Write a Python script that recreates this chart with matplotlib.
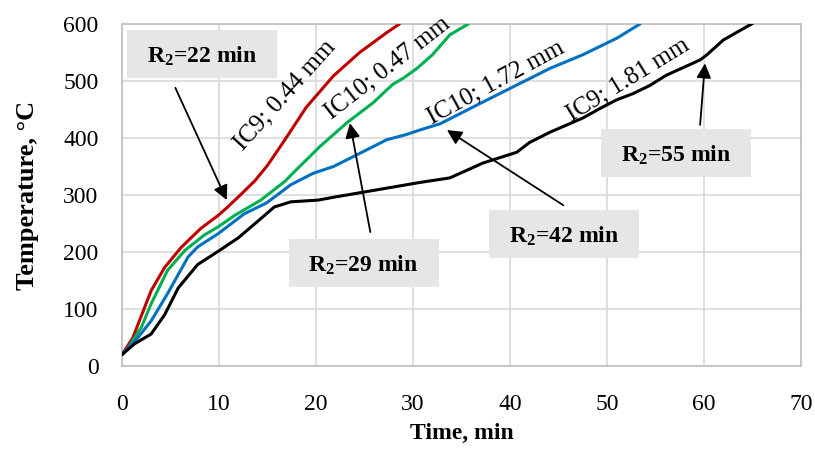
import matplotlib
matplotlib.use("Agg")
import matplotlib.pyplot as plt
from matplotlib.patches import Rectangle

plt.rcParams['font.family'] = ['Liberation Serif', 'DejaVu Serif']
plt.rcParams['mathtext.fontset'] = 'custom'
plt.rcParams['mathtext.rm'] = 'Liberation Serif'
plt.rcParams['mathtext.bf'] = 'Liberation Serif:bold'
plt.rcParams['mathtext.it'] = 'Liberation Serif:italic'

# ---- data ----
t_ic9_044 = [0, 1.1, 2.2, 3, 4.4, 6.1, 8.1, 9.9, 10.9, 12.2, 13.7, 15, 16.6, 19, 21.8, 24.5, 27.3, 28.6]
T_ic9_044 = [20, 49, 97, 132, 173, 208, 241, 264, 279, 300, 325, 352, 392, 454, 509, 550, 585, 600]

t_ic10_047 = [0, 0.6, 2, 3, 4.7, 6.5, 8.5, 9.9, 11.6, 14.3, 16.8, 17.6, 20.4, 23.2, 25.9, 27.9, 29, 30.4, 32, 33.8, 35.7]
T_ic10_047 = [20, 31, 68, 109, 168, 203, 230, 244, 264, 291, 324, 338, 385, 427, 462, 494, 505, 522, 546, 581, 600]

t_ic10_172 = [0, 1.6, 3, 4.7, 6.8, 7.8, 9.9, 12.6, 14.9, 17.4, 19.7, 21.8, 23.8, 25.2, 27.3, 29.3, 30.7, 32.8, 37.2, 40.7, 44.1, 47.5, 51, 53.4]
T_ic10_172 = [20, 49, 79, 127, 191, 209, 232, 267, 286, 318, 338, 350, 367, 379, 397, 406, 414, 425, 463, 493, 522, 546, 575, 600]

t_ic9_181 = [0, 1.3, 3, 4.4, 5.8, 7.8, 9.9, 12, 14, 15.7, 17.4, 20.2, 21.8, 26.6, 30.7, 33.8, 37.2, 40.7, 42, 44.1, 47.5, 49.3, 51, 52.7, 54.4, 56.1, 59.6, 60.3, 62, 65]
T_ic9_181 = [20, 39, 56, 90, 137, 178, 201, 225, 254, 279, 288, 291, 296, 310, 322, 330, 356, 375, 392, 410, 435, 452, 467, 478, 492, 510, 537, 546, 572, 601]

curve_labels = ["IC9; 0.44 mm", "IC10; 0.47 mm", "IC10; 1.72 mm", "IC9; 1.81 mm"]
r2_labels = ["22", "29", "42", "55"]

x_ticks = [0, 10, 20, 30, 40, 50, 60, 70]
y_ticks = [0, 100, 200, 300, 400, 500, 600]

# ---- figure ----
fig = plt.figure(figsize=(8.15, 4.49), dpi=100)
ax = fig.add_axes([122/815, 1-366/449, (801-122)/815, (366-24)/449])

lw = 2.2
kw = dict(lw=lw, zorder=3, solid_joinstyle='round', solid_capstyle='round')
ax.plot(t_ic9_044, T_ic9_044, color='#c00000', **kw)
ax.plot(t_ic10_047, T_ic10_047, color='#00b050', **kw)
ax.plot(t_ic10_172, T_ic10_172, color='#0070c0', **kw)
ax.plot(t_ic9_181, T_ic9_181, color='black', **kw)

ax.set_xlim(0, 70)
ax.set_ylim(0, 600)
ax.set_xticks(x_ticks)
ax.set_yticks(y_ticks)
ax.grid(True, color='#d9d9d9', lw=1.2, zorder=0)
ax.set_axisbelow(True)
for s in ax.spines.values():
    s.set_color('#bfbfbf')
    s.set_linewidth(1.2)
ax.tick_params(length=0, labelsize=17)
ax.tick_params(axis='x', pad=20)
ax.tick_params(axis='y', pad=17)

ax.set_xlabel("Time, min", fontsize=17, fontweight='bold', labelpad=6)
ax.set_ylabel("Temperature, °C", fontsize=19, fontweight='bold', labelpad=17)

# rotated curve labels
rot_pos = [(16.8, 475, 48), (27.4, 523, 38), (38.6, 496, 28.5), (52.2, 502, 31.5)]
for lab, (x, y, r) in zip(curve_labels, rot_pos):
    ax.text(x, y, lab, rotation=r, rotation_mode='anchor', ha='center', va='center',
            fontsize=18, zorder=5)

# annotation boxes and arrows
box_pos = [(8.25, 547), (24.9, 181), (45.6, 232), (57.1, 374)]
arrow_tail = [(5.5, 488), (25.6, 235), (45.5, 282), (59.6, 423)]
arrow_tip = [(10.8, 291), (23.5, 426), (33.5, 414), (60.1, 531)]
bw = 150 / ((801 - 122) / 70.0)
bh = 48 / ((366 - 24) / 600.0)
for lab, bp, tail, tip in zip(r2_labels, box_pos, arrow_tail, arrow_tip):
    ax.annotate("", xy=tip, xytext=tail,
                arrowprops=dict(arrowstyle='-|>', color='black', lw=1.3,
                                mutation_scale=22, shrinkA=0, shrinkB=0), zorder=6)
    ax.add_patch(Rectangle((bp[0] - bw / 2, bp[1] - bh / 2), bw, bh,
                           facecolor='#e7e6e6', edgecolor='none', zorder=7))
    ax.text(bp[0], bp[1] - 4, r"R$_\mathbf{2}$=" + lab + " min", ha='center', va='center',
            fontsize=17, fontweight='bold', zorder=8)

fig.savefig("out.png", dpi=100)
